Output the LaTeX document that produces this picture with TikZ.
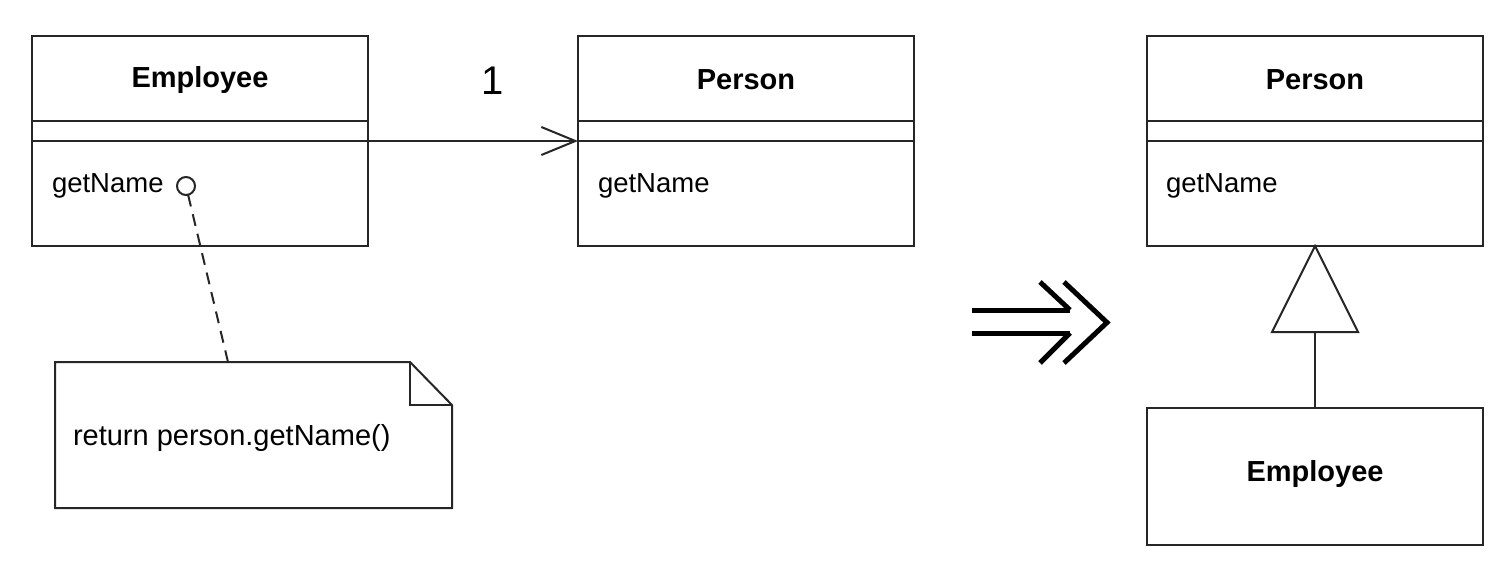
\documentclass[tikz,border=0pt]{standalone}
\usepackage{fontspec}
\setmainfont{Liberation Sans}
\usetikzlibrary{arrows.meta,calc}
\begin{document}
\begin{tikzpicture}[x=1pt,y=-1pt,
  every node/.style={inner sep=0pt,outer sep=0pt},
  classbox/.style={draw=black!85,line width=2pt,rectangle,anchor=north west,minimum width=336pt},
  title/.style={font=\fontsize{29}{33}\selectfont\bfseries},
  member/.style={font=\fontsize{27.5}{31}\selectfont,anchor=west},
  conn/.style={draw=black!85,line width=2pt},
  divider/.style={draw=black!85,line width=2pt}]
\useasboundingbox (0,0) rectangle (1508,574);
\fill[white] (0,0) rectangle (1508,574);

% left Employee class
\node[classbox,minimum height=210pt] (emp) at (32,36) {};
\node[title] (empT) at (200,80) {Employee};
\draw[divider] ([yshift=-85pt]emp.north west) -- ([yshift=-85pt]emp.north east);
\draw[divider] ([yshift=-105pt]emp.north west) -- ([yshift=-105pt]emp.north east);
\node[member] (empM) at (52,186) {getName};
\node[draw=black!85,line width=2pt,circle,minimum size=18pt] (circ) at (186,186) {};

% left Person class
\node[classbox,minimum height=210pt] (per) at (578,36) {};
\node[title] (perT) at (746,80) {Person};
\draw[divider] ([yshift=-85pt]per.north west) -- ([yshift=-85pt]per.north east);
\draw[divider] ([yshift=-105pt]per.north west) -- ([yshift=-105pt]per.north east);
\node[member] (perM) at (598,186) {getName};

% association
\coordinate (a1) at ([yshift=-105pt]emp.north east);
\coordinate (a2) at ([yshift=-105pt]per.north west);
\draw[conn,-{Straight Barb[length=34pt,width=28pt,line width=2pt]}] (a1) -- (a2);
\node[font=\fontsize{40}{44}\selectfont] (mult) at (493,81) {1};

% note
\node[rectangle,anchor=north west,minimum width=397pt,minimum height=146pt] (note) at (55,362) {};
\draw[conn] (note.north west) -- ([xshift=-42pt]note.north east) -- ([yshift=-43pt]note.north east)
  -- (note.south east) -- (note.south west) -- cycle;
\draw[conn,line width=1.6pt] ([xshift=-42pt]note.north east) -- ([xshift=-42pt,yshift=-43pt]note.north east) -- ([yshift=-43pt]note.north east);
\node[member,font=\fontsize{29}{33}\selectfont] (noteT) at (73,438) {return person.getName()};
\coordinate (nt) at ([xshift=173pt]note.north west);
\draw[conn,dash pattern=on 12pt off 8pt] (circ) -- (nt);

% refactoring arrow
\begin{scope}[line width=5pt,miter limit=10]
\draw (972,310) -- (1070,310);
\draw (972,333) -- (1070,333);
\draw (1040,282) -- (1070,310);
\draw (1040,363) -- (1070,333);
\draw (1064,282) -- (1107,322.5) -- (1064,363);
\end{scope}

% right Person class
\node[classbox,minimum height=210pt] (per2) at (1147,36) {};
\node[title] (per2T) at (1315,80) {Person};
\draw[divider] ([yshift=-85pt]per2.north west) -- ([yshift=-85pt]per2.north east);
\draw[divider] ([yshift=-105pt]per2.north west) -- ([yshift=-105pt]per2.north east);
\node[member] (per2M) at (1166,186) {getName};

% right Employee class
\node[classbox,minimum height=137pt] (emp2) at (1147,408) {};
\node[title] (emp2T) at (1315,474) {Employee};

% generalization
\coordinate (tb) at ([yshift=-86pt]per2.south);
\draw[conn,line join=miter] (per2.south) -- ([xshift=-43pt]tb) -- ([xshift=43pt]tb) -- cycle;
\draw[conn] (tb) -- (emp2.north);
\end{tikzpicture}
\end{document}
